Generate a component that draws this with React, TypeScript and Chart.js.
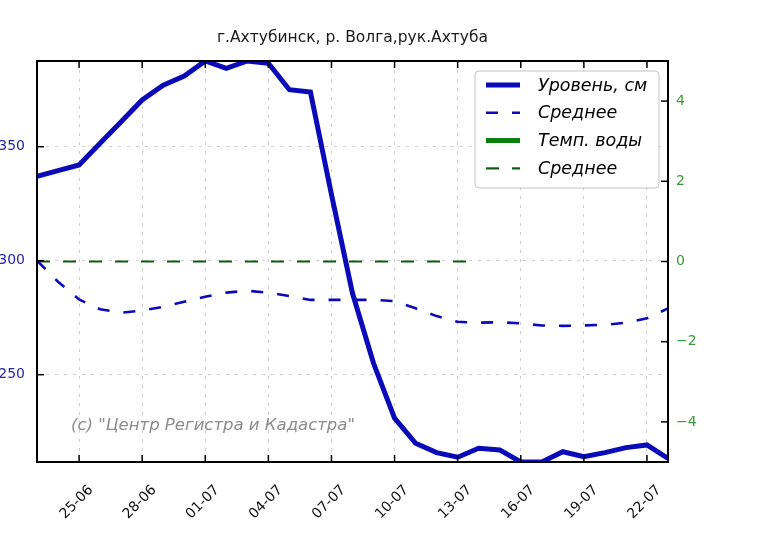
import React, { useEffect, useRef } from "react";
import { Chart, registerables } from "chart.js";

Chart.register(...registerables);

const chartTitle = "г.Ахтубинск, р. Волга,рук.Ахтуба";
const watermark = "(c) \"Центр Регистра и Кадастра\"";

const dates = [
  "23-06", "24-06", "25-06", "26-06", "27-06", "28-06", "29-06", "30-06",
  "01-07", "02-07", "03-07", "04-07", "05-07", "06-07", "07-07", "08-07",
  "09-07", "10-07", "11-07", "12-07", "13-07", "14-07", "15-07", "16-07",
  "17-07", "18-07", "19-07", "20-07", "21-07", "22-07", "23-07",
];

// Уровень, см
const levelValues = [
  337, 339.5, 342, 351.5, 361, 370.5, 377, 381,
  387.6, 384.4, 387.6, 386.6, 375, 374, 329, 285.7,
  255, 230.9, 219.9, 215.8, 213.8, 217.7, 217, 211.7,
  211.7, 216.2, 214, 215.8, 218, 219.2, 213.3,
];

// Среднее (уровень)
const levelAverage = [
  300, 290.8, 283, 278.7, 277.2, 278.1, 279.8, 282,
  284.2, 286, 286.8, 286, 284.5, 282.8, 282.8, 282.8,
  282.8, 282.3, 279.1, 275.7, 273.2, 272.8, 273, 272.5,
  271.6, 271.4, 271.6, 271.9, 272.8, 274.7, 279.1,
];

// Темп. воды (no values shown)
const tempValues: (number | null)[] = [];

// Среднее (темп.)
const tempAverage = [
  0, 0, 0, 0, 0, 0, 0, 0, 0, 0, 0,
  0, 0, 0, 0, 0, 0, 0, 0, 0, 0, 0,
];

const levelTicks = [250, 300, 350];
const tempTicks = [-4, -2, 0, 2, 4];
const levelMin = 211.7;
const levelMax = 387.6;
const tempMin = -5;
const tempMax = 5;

const FONT = "'DejaVu Sans', sans-serif";

const BLUE = "#0a0ab8";
const GREEN = "#0b7f0b";
const DARK_GREEN = "#0f5a0f";
const GRID = "#cdcdcd";

const decorPlugin = {
  id: "decor",
  afterDatasetsDraw(chart: any) {
    const { ctx, chartArea: a, scales } = chart;
    ctx.save();
    ctx.setLineDash([]);
    ctx.strokeStyle = "#000";
    ctx.lineWidth = 1.5;
    const seg = (x1: number, y1: number, x2: number, y2: number) => {
      ctx.beginPath();
      ctx.moveTo(x1, y1);
      ctx.lineTo(x2, y2);
      ctx.stroke();
    };
    const xs = scales.x;
    xs.ticks.forEach((t: any, i: number) => {
      if (!t.label) return;
      const px = xs.getPixelForTick(i);
      seg(px, a.bottom, px, a.bottom - 7);
      seg(px, a.top, px, a.top + 7);
    });
    const ys = scales.y;
    ys.ticks.forEach((_t: any, i: number) => {
      const py = ys.getPixelForTick(i);
      seg(a.left, py, a.left + 7, py);
    });
    const y1 = scales.y1;
    y1.ticks.forEach((_t: any, i: number) => {
      const py = y1.getPixelForTick(i);
      seg(a.right, py, a.right - 7, py);
    });
    ctx.lineWidth = 2;
    ctx.strokeRect(a.left, a.top, a.right - a.left, a.bottom - a.top);

    // watermark
    ctx.font = `italic 16.5px ${FONT}`;
    ctx.fillStyle = "#8c8c8c";
    ctx.textAlign = "left";
    ctx.textBaseline = "middle";
    ctx.fillText(watermark, a.left + 34, a.bottom - 36);

    // legend
    const ds = chart.data.datasets;
    const bx = a.right - 193;
    const by = a.top + 10;
    const bw = 184;
    const bh = 117;
    const r = 4;
    ctx.beginPath();
    ctx.moveTo(bx + r, by);
    ctx.lineTo(bx + bw - r, by);
    ctx.arcTo(bx + bw, by, bx + bw, by + r, r);
    ctx.lineTo(bx + bw, by + bh - r);
    ctx.arcTo(bx + bw, by + bh, bx + bw - r, by + bh, r);
    ctx.lineTo(bx + r, by + bh);
    ctx.arcTo(bx, by + bh, bx, by + bh - r, r);
    ctx.lineTo(bx, by + r);
    ctx.arcTo(bx, by, bx + r, by, r);
    ctx.closePath();
    ctx.fillStyle = "#fff";
    ctx.fill();
    ctx.strokeStyle = "#c4c4c4";
    ctx.lineWidth = 1;
    ctx.stroke();
    ds.forEach((d: any, i: number) => {
      const cy = by + 14 + i * 27.8;
      ctx.beginPath();
      ctx.setLineDash(d.borderDash || []);
      ctx.strokeStyle = d.borderColor;
      ctx.lineWidth = d.borderWidth;
      ctx.moveTo(bx + 11, cy);
      ctx.lineTo(bx + 45, cy);
      ctx.stroke();
      ctx.setLineDash([]);
      ctx.font = `italic 17.5px ${FONT}`;
      ctx.fillStyle = "#000";
      ctx.textAlign = "left";
      ctx.textBaseline = "middle";
      ctx.fillText(d.label, bx + 63, cy + 1);
    });
    ctx.restore();
  },
};

export default function App() {
  const ref = useRef<HTMLCanvasElement | null>(null);
  useEffect(() => {
    if (!ref.current) return;
    const chart = new Chart(ref.current, {
      type: "line",
      data: {
        labels: dates,
        datasets: [
          {
            label: "Уровень, см",
            data: levelValues,
            borderColor: BLUE,
            borderWidth: 5,
            pointRadius: 0,
            tension: 0,
            yAxisID: "y",
            clip: 0,
          } as any,
          {
            label: "Среднее",
            data: levelAverage,
            borderColor: BLUE,
            borderWidth: 2.6,
            borderDash: [12, 14],
            pointRadius: 0,
            tension: 0,
            yAxisID: "y",
            clip: 0,
          },
          {
            label: "Темп. воды",
            data: tempValues,
            borderColor: GREEN,
            borderWidth: 5,
            pointRadius: 0,
            tension: 0,
            yAxisID: "y1",
            clip: 0,
          },
          {
            label: "Среднее",
            data: tempAverage,
            borderColor: DARK_GREEN,
            borderWidth: 2.2,
            borderDash: [13, 13],
            pointRadius: 0,
            tension: 0,
            yAxisID: "y1",
            clip: 0,
          },
        ],
      },
      options: {
        animation: false,
        responsive: false,
        maintainAspectRatio: false,
        layout: { padding: 0 },
        plugins: {
          legend: { display: false },
          tooltip: { enabled: false },
          title: {
            display: true,
            text: chartTitle,
            fullSize: false,
            color: "#1a1a1a",
            font: { family: FONT, size: 15.5, weight: "normal" },
            padding: { top: 29, bottom: 13.4 },
          },
        },
        scales: {
          x: {
            type: "category",
            grid: {
              drawTicks: false,
              color: (c: any) => (c.index % 3 === 2 ? GRID : "rgba(0,0,0,0)"),
              lineWidth: 1,
            },
            border: { display: false, dash: [3, 6] },
            ticks: {
              autoSkip: false,
              maxRotation: 45,
              minRotation: 45,
              padding: 20,
              labelOffset: 12,
              color: "#111",
              font: { family: FONT, size: 14 },
              callback: (_v: any, i: number) => (i % 3 === 2 ? dates[i] : ""),
            },
            afterFit: (s: any) => {
              s.height = 82;
            },
          },
          y: {
            position: "left",
            min: levelMin,
            max: levelMax,
            afterBuildTicks: (s: any) => {
              s.ticks = levelTicks.map((v) => ({ value: v }));
            },
            ticks: {
              padding: 12,
              color: "#2626a6",
              font: { family: FONT, size: 14 },
            },
            grid: { drawTicks: false, color: GRID, lineWidth: 1 },
            border: { display: false, dash: [3, 6] },
            afterFit: (s: any) => {
              s.width = 37;
            },
          },
          y1: {
            position: "right",
            min: tempMin,
            max: tempMax,
            afterBuildTicks: (s: any) => {
              s.ticks = tempTicks.map((v) => ({ value: v }));
            },
            ticks: {
              padding: 8,
              color: "#3b9a3b",
              font: { family: FONT, size: 14 },
              callback: (v: any) => (v < 0 ? "\u2212" + Math.abs(v) : String(v)),
            },
            grid: { display: false, drawTicks: false },
            border: { display: false },
            afterFit: (s: any) => {
              s.width = 98;
            },
          },
        },
      },
      plugins: [decorPlugin],
    });
    return () => chart.destroy();
  }, []);
  return (
    <div style={{ position: "absolute", left: 0, top: 0, width: 766, height: 544, background: "#fff" }}>
      <canvas ref={ref} width={766} height={544} />
    </div>
  );
}
